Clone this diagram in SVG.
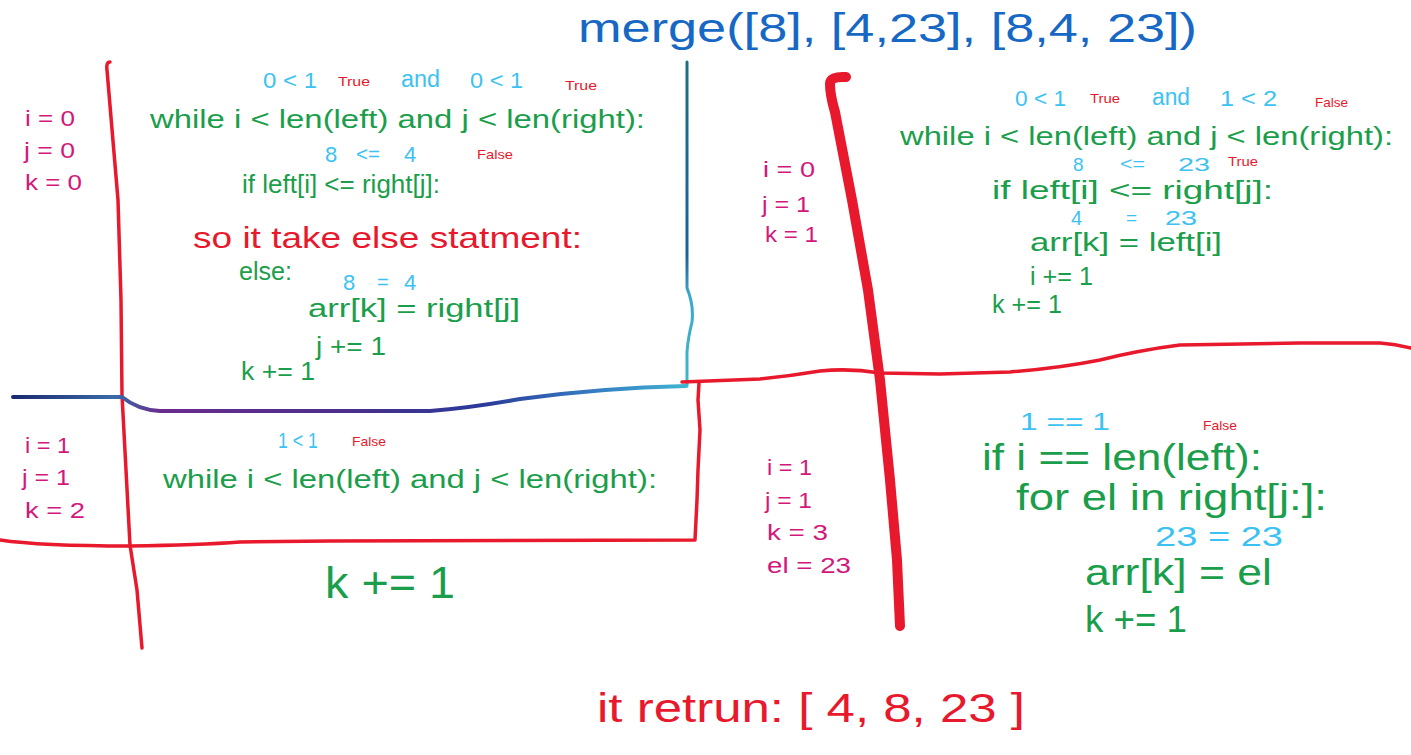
<svg xmlns="http://www.w3.org/2000/svg" width="1411" height="755" viewBox="0 0 1411 755">
<style>
text{font-family:"Liberation Sans Narrow","Liberation Sans",Arial,sans-serif}
.g{fill:#1b9e4b}
.b{fill:#3cc2f2}
.p{fill:#d3187c}
.r{fill:#e8192c}
.t{fill:#1768c4}
.rl{fill:none;stroke:#e8192c;stroke-width:3.5;stroke-linecap:round;stroke-linejoin:round}
</style>
<defs>
<linearGradient id="glit" gradientUnits="userSpaceOnUse" x1="13" y1="0" x2="686" y2="0">
<stop offset="0" stop-color="#1b2a70"/>
<stop offset="0.15" stop-color="#3a6aa8"/>
<stop offset="0.22" stop-color="#6a2c8e"/>
<stop offset="0.5" stop-color="#4a2f8a"/>
<stop offset="0.7" stop-color="#2a3a9a"/>
<stop offset="0.85" stop-color="#3578c0"/>
<stop offset="1" stop-color="#3fb4d2"/>
</linearGradient>
<linearGradient id="teal" gradientUnits="userSpaceOnUse" x1="0" y1="62" x2="0" y2="386">
<stop offset="0" stop-color="#1e6f82"/>
<stop offset="0.6" stop-color="#1f5fa0"/>
<stop offset="0.72" stop-color="#3aa8c8"/>
<stop offset="1" stop-color="#3fb6cc"/>
</linearGradient>
</defs>
<rect width="1411" height="755" fill="#ffffff"/>

<!-- lines -->
<g id="lines">
<path class="rl" d="M110 62 Q106 62 107 70 L118 200 L121 300 L122 395 L126 470 L130 545 L137 590 L142 648"/>
<path fill="none" stroke="url(#glit)" stroke-width="4" stroke-linecap="round" d="M13 397 L122 397 Q138 410 160 411 L430 411 Q470 408 520 399 Q600 388 686 386"/>
<path fill="none" stroke="url(#teal)" stroke-width="3" stroke-linecap="round" d="M687 62 L687 288 Q694 305 692 322 Q688 338 687 352 L687 386"/>
<path class="rl" d="M682 382 L760 379 Q790 376 820 371 Q850 368 880 373 L940 374 L1010 372 Q1060 368 1100 360 Q1140 350 1180 345 L1300 343 L1380 343 Q1395 344 1411 348"/>
<path class="rl" d="M0 540 Q40 546 130 546 Q200 545 240 542 L330 541 L695 540 L697 500 L698 470 L700 430 L698 400 L699 383"/>
<path fill="none" stroke="#e8192c" stroke-width="10" stroke-linecap="round" stroke-linejoin="round" d="M846 77 Q830 76 830 84 Q830 95 835 112 L852 200 L868 290 L880 380 L890 480 L897 560 L900 626"/>
</g>

<!-- title -->
<g id="title">
<text class="t" x="578" y="42" font-size="40" textLength="619" lengthAdjust="spacingAndGlyphs">merge([8], [4,23], [8,4, 23])</text>
</g>

<!-- top-left panel -->
<g id="panel-top-left">
<text class="p" x="25" y="126" font-size="22" textLength="50" lengthAdjust="spacingAndGlyphs">i = 0</text>
<text class="p" x="24" y="158" font-size="22" textLength="51" lengthAdjust="spacingAndGlyphs">j = 0</text>
<text class="p" x="25" y="190" font-size="22" textLength="57" lengthAdjust="spacingAndGlyphs">k = 0</text>
<text class="b" x="263" y="88" font-size="22" textLength="54" lengthAdjust="spacingAndGlyphs">0 &lt; 1</text>
<text class="r" x="338" y="86" font-size="13" textLength="32" lengthAdjust="spacingAndGlyphs">True</text>
<text class="b" x="401" y="87" font-size="23" textLength="39" lengthAdjust="spacingAndGlyphs">and</text>
<text class="b" x="470" y="88" font-size="22" textLength="53" lengthAdjust="spacingAndGlyphs">0 &lt; 1</text>
<text class="r" x="565" y="90" font-size="13" textLength="32" lengthAdjust="spacingAndGlyphs">True</text>
<text class="g" x="150" y="128" font-size="26" textLength="495" lengthAdjust="spacingAndGlyphs">while   i &lt; len(left) and   j &lt; len(right):</text>
<text class="b" x="325" y="162" font-size="22">8</text>
<text class="b" x="356" y="161" font-size="20" textLength="24" lengthAdjust="spacingAndGlyphs">&lt;=</text>
<text class="b" x="404" y="162" font-size="22">4</text>
<text class="r" x="477" y="159" font-size="13" textLength="36" lengthAdjust="spacingAndGlyphs">False</text>
<text class="g" x="242" y="193" font-size="26" textLength="198" lengthAdjust="spacingAndGlyphs">if  left[i] &lt;=  right[j]:</text>
<text class="r" x="193" y="248" font-size="30" textLength="389" lengthAdjust="spacingAndGlyphs">so it take else statment:</text>
<text class="g" x="239" y="280" font-size="26" textLength="53" lengthAdjust="spacingAndGlyphs">else:</text>
<text class="b" x="343" y="290" font-size="22">8</text>
<text class="b" x="377" y="289" font-size="20">=</text>
<text class="b" x="404" y="290" font-size="22">4</text>
<text class="g" x="308" y="317" font-size="26" textLength="212" lengthAdjust="spacingAndGlyphs">arr[k] = right[j]</text>
<text class="g" x="316" y="355" font-size="26" textLength="70" lengthAdjust="spacingAndGlyphs">j += 1</text>
<text class="g" x="241" y="380" font-size="26" textLength="74" lengthAdjust="spacingAndGlyphs">k += 1</text>
</g>

<!-- top-right panel -->
<g id="panel-top-right">
<text class="p" x="763" y="177" font-size="22" textLength="52" lengthAdjust="spacingAndGlyphs">i = 0</text>
<text class="p" x="762" y="212" font-size="22" textLength="48" lengthAdjust="spacingAndGlyphs">j = 1</text>
<text class="p" x="765" y="242" font-size="22" textLength="53" lengthAdjust="spacingAndGlyphs">k = 1</text>
<text class="b" x="1015" y="106" font-size="22" textLength="51" lengthAdjust="spacingAndGlyphs">0 &lt; 1</text>
<text class="r" x="1090" y="103" font-size="13" textLength="30" lengthAdjust="spacingAndGlyphs">True</text>
<text class="b" x="1152" y="105" font-size="23" textLength="38" lengthAdjust="spacingAndGlyphs">and</text>
<text class="b" x="1220" y="106" font-size="22" textLength="57" lengthAdjust="spacingAndGlyphs">1 &lt; 2</text>
<text class="r" x="1315" y="107" font-size="13" textLength="33" lengthAdjust="spacingAndGlyphs">False</text>
<text class="g" x="900" y="145" font-size="26" textLength="493" lengthAdjust="spacingAndGlyphs">while   i &lt; len(left) and   j &lt; len(right):</text>
<text class="b" x="1073" y="171" font-size="19">8</text>
<text class="b" x="1120" y="170" font-size="18" textLength="25" lengthAdjust="spacingAndGlyphs">&lt;=</text>
<text class="b" x="1178" y="171" font-size="19" textLength="32" lengthAdjust="spacingAndGlyphs">23</text>
<text class="r" x="1228" y="166" font-size="13" textLength="30" lengthAdjust="spacingAndGlyphs">True</text>
<text class="g" x="992" y="199" font-size="26" textLength="281" lengthAdjust="spacingAndGlyphs">if  left[i] &lt;=  right[j]:</text>
<text class="b" x="1071" y="225" font-size="20">4</text>
<text class="b" x="1126" y="224" font-size="19">=</text>
<text class="b" x="1165" y="225" font-size="20" textLength="32" lengthAdjust="spacingAndGlyphs">23</text>
<text class="g" x="1030" y="251" font-size="26" textLength="192" lengthAdjust="spacingAndGlyphs">arr[k] = left[i]</text>
<text class="g" x="1030" y="285" font-size="26" textLength="63" lengthAdjust="spacingAndGlyphs">i += 1</text>
<text class="g" x="992" y="313" font-size="26" textLength="70" lengthAdjust="spacingAndGlyphs">k += 1</text>
</g>

<!-- bottom-left panel -->
<g id="panel-bottom-left">
<text class="p" x="25" y="453" font-size="22" textLength="45" lengthAdjust="spacingAndGlyphs">i = 1</text>
<text class="p" x="22" y="485" font-size="22" textLength="48" lengthAdjust="spacingAndGlyphs">j = 1</text>
<text class="p" x="25" y="518" font-size="22" textLength="60" lengthAdjust="spacingAndGlyphs">k = 2</text>
<text class="b" x="278" y="448" font-size="22" textLength="40" lengthAdjust="spacingAndGlyphs">1 &lt; 1</text>
<text class="r" x="352" y="446" font-size="13" textLength="34" lengthAdjust="spacingAndGlyphs">False</text>
<text class="g" x="163" y="488" font-size="26" textLength="494" lengthAdjust="spacingAndGlyphs">while   i &lt; len(left) and   j &lt; len(right):</text>
<text class="g" x="325" y="598" font-size="44" textLength="130" lengthAdjust="spacingAndGlyphs">k += 1</text>
</g>

<!-- bottom-right panel -->
<g id="panel-bottom-right">
<text class="p" x="767" y="475" font-size="22" textLength="45" lengthAdjust="spacingAndGlyphs">i = 1</text>
<text class="p" x="765" y="508" font-size="22" textLength="47" lengthAdjust="spacingAndGlyphs">j = 1</text>
<text class="p" x="767" y="540" font-size="22" textLength="61" lengthAdjust="spacingAndGlyphs">k = 3</text>
<text class="p" x="767" y="573" font-size="22" textLength="84" lengthAdjust="spacingAndGlyphs">el = 23</text>
<text class="b" x="1020" y="430" font-size="24" textLength="90" lengthAdjust="spacingAndGlyphs">1  ==  1</text>
<text class="r" x="1203" y="430" font-size="13" textLength="34" lengthAdjust="spacingAndGlyphs">False</text>
<text class="g" x="982" y="470" font-size="36" textLength="280" lengthAdjust="spacingAndGlyphs">if i == len(left):</text>
<text class="g" x="1016" y="510" font-size="36" textLength="311" lengthAdjust="spacingAndGlyphs">for el in right[j:]:</text>
<text class="b" x="1155" y="546" font-size="28" textLength="128" lengthAdjust="spacingAndGlyphs">23  =  23</text>
<text class="g" x="1085" y="585" font-size="36" textLength="187" lengthAdjust="spacingAndGlyphs">arr[k] = el</text>
<text class="g" x="1085" y="632" font-size="36" textLength="102" lengthAdjust="spacingAndGlyphs">k += 1</text>
</g>

<!-- result -->
<g id="result">
<text class="r" x="597" y="722" font-size="40" textLength="428" lengthAdjust="spacingAndGlyphs">it retrun: [ 4, 8, 23 ]</text>
</g>
</svg>
